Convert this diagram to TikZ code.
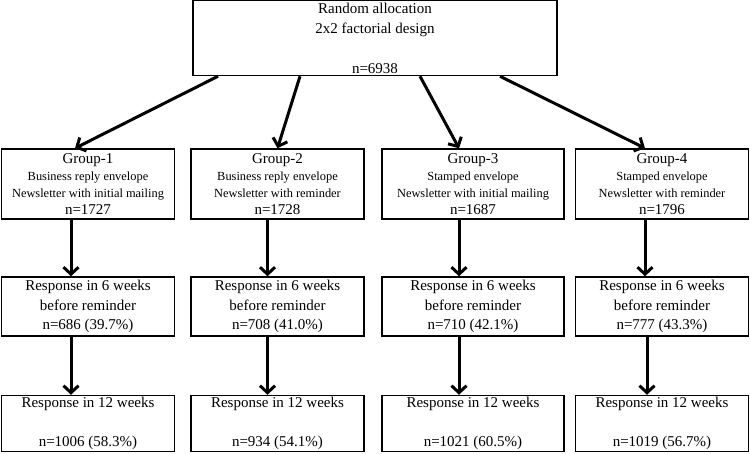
\documentclass[tikz,border=0pt]{standalone}
\usepackage{fontspec}
\setmainfont{Liberation Serif}
\usepackage{tikz}
\usetikzlibrary{arrows.meta}

\newcommand{\smalltxt}{\fontsize{12.4pt}{17pt}\selectfont}

\begin{document}
\begin{tikzpicture}[x=1pt, y=-1pt,
		box/.style={draw, line width=1.5pt, align=center, inner sep=0pt, font=\fontsize{15pt}{19.5pt}\selectfont},
		arr/.style={line width=3pt, -{Straight Barb[length=7pt, width=15pt, line width=3pt]}}]
			\useasboundingbox (0,0) rectangle (750,453);
			\node[box, minimum width=364pt, minimum height=75pt, font=\fontsize{15pt}{20pt}\selectfont] at (375,38) (top){Random allocation\\2x2 factorial design\\[20pt]n=6938};
			\node[box, minimum width=173pt, minimum height=70pt, font=\fontsize{15pt}{17pt}\selectfont] at (88,184) (g1){Group-1\\{\smalltxt Business reply envelope}\\{\smalltxt Newsletter with initial mailing}\\n=1727};
			\node[box, minimum width=173pt, minimum height=70pt, font=\fontsize{15pt}{17pt}\selectfont] at (277.5,184) (g2){Group-2\\{\smalltxt Business reply envelope}\\{\smalltxt Newsletter with reminder}\\n=1728};
			\node[box, minimum width=182pt, minimum height=70pt, font=\fontsize{15pt}{17pt}\selectfont] at (473,184) (g3){Group-3\\{\smalltxt Stamped envelope}\\{\smalltxt Newsletter with initial mailing}\\n=1687};
			\node[box, minimum width=173pt, minimum height=70pt, font=\fontsize{15pt}{17pt}\selectfont] at (662,184) (g4){Group-4\\{\smalltxt Stamped envelope}\\{\smalltxt Newsletter with reminder}\\n=1796};
			\node[box, minimum width=173pt, minimum height=59pt] at (88,306.5) (r1){Response in 6 weeks\\before reminder\\n=686 (39.7\%)};
			\node[box, minimum width=173pt, minimum height=59pt] at (277.5,306.5) (r2){Response in 6 weeks\\before reminder\\n=708 (41.0\%)};
			\node[box, minimum width=182pt, minimum height=59pt] at (473,306.5) (r3){Response in 6 weeks\\before reminder\\n=710 (42.1\%)};
			\node[box, minimum width=173pt, minimum height=59pt] at (662,306.5) (r4){Response in 6 weeks\\before reminder\\n=777 (43.3\%)};
			\node[box, minimum width=173pt, minimum height=56pt] at (88,423.5) (f1){Response in 12 weeks\\[19pt]n=1006 (58.3\%)};
			\node[box, minimum width=173pt, minimum height=56pt] at (277.5,423.5) (f2){Response in 12 weeks\\[19pt]n=934 (54.1\%)};
			\node[box, minimum width=182pt, minimum height=56pt] at (473,423.5) (f3){Response in 12 weeks\\[19pt]n=1021 (60.5\%)};
			\node[box, minimum width=173pt, minimum height=56pt] at (662,423.5) (f4){Response in 12 weeks\\[19pt]n=1019 (56.7\%)};
			\draw[arr] ([xshift=-157pt]top.south) -- ([xshift=-13pt]g1.north);
			\draw[arr] ([xshift=-75pt]top.south) -- (g2.north);
			\draw[arr] ([xshift=45pt]top.south) -- ([xshift=-14pt]g3.north);
			\draw[arr] ([xshift=125pt]top.south) -- ([xshift=-17pt]g4.north);
			\draw[arr] ([xshift=-17pt]g1.south) -- ([xshift=-17pt]r1.north);
			\draw[arr] ([xshift=-10pt]g2.south) -- ([xshift=-10pt]r2.north);
			\draw[arr] ([xshift=-14pt]g3.south) -- ([xshift=-14pt]r3.north);
			\draw[arr] ([xshift=-17pt]g4.south) -- ([xshift=-17pt]r4.north);
			\draw[arr] ([xshift=-17pt]r1.south) -- ([xshift=-17pt]f1.north);
			\draw[arr] ([xshift=-10pt]r2.south) -- ([xshift=-10pt]f2.north);
			\draw[arr] ([xshift=-14pt]r3.south) -- ([xshift=-14pt]f3.north);
			\draw[arr] ([xshift=-15pt]r4.south) -- ([xshift=-15pt]f4.north);
		\end{tikzpicture}
\end{document}
